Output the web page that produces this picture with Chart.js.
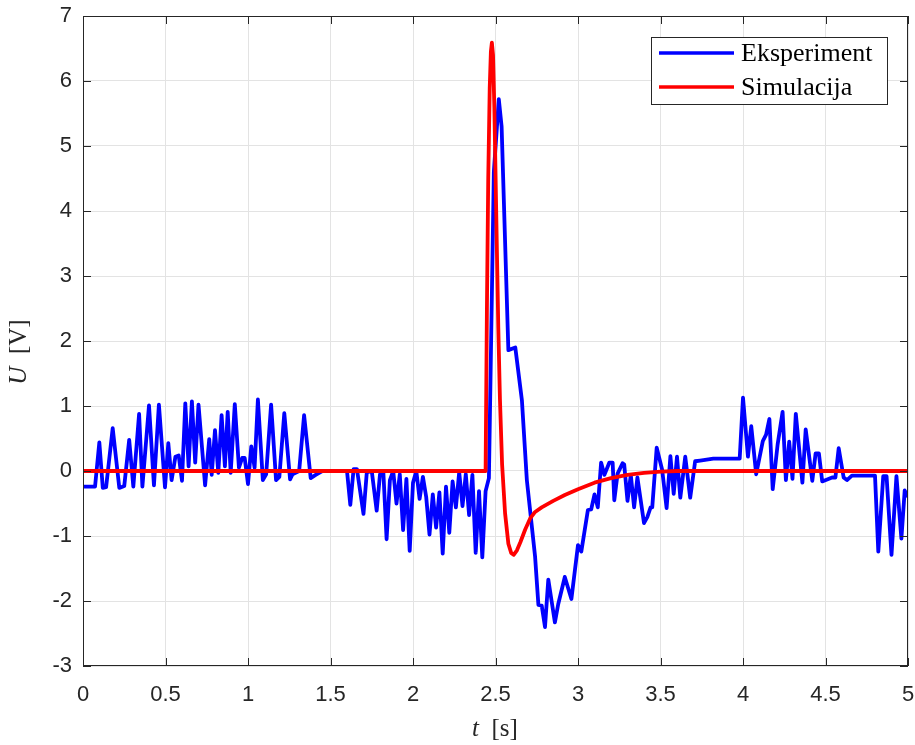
<!DOCTYPE html>
<html lang="hr">
<head>
<meta charset="UTF-8" />
<title>Eksperiment vs Simulacija</title>
<style>
  body { margin: 0; background: #fff; }
  #wrap { width: 915px; height: 745px; }
</style>
<script src="https://cdn.jsdelivr.net/npm/chart.js"></script>
</head>
<body>
<div id="wrap"><canvas id="c" width="915" height="745"></canvas></div>
<script>
// measured signal (blue)
const expT = [0, 0.073, 0.099, 0.12, 0.14, 0.18, 0.22, 0.25, 0.28, 0.305, 0.34, 0.36, 0.40, 0.43, 0.46, 0.497, 0.517, 0.537, 0.56, 0.58,
  0.60, 0.62, 0.64, 0.66, 0.68, 0.70, 0.74, 0.765, 0.78, 0.80, 0.82, 0.84, 0.86, 0.877, 0.895, 0.92, 0.945, 0.965, 0.98, 1.0,
  1.02, 1.04, 1.06, 1.09, 1.11, 1.14, 1.17, 1.19, 1.22, 1.255, 1.27, 1.31, 1.34, 1.38, 1.41, 1.45, 1.6,
  1.62, 1.64, 1.66, 1.70, 1.72, 1.75, 1.78, 1.80, 1.82, 1.84, 1.86, 1.88, 1.90, 1.92, 1.94, 1.96, 1.98, 2.00, 2.02, 2.04,
  2.06, 2.08, 2.10, 2.12, 2.14, 2.16, 2.18, 2.20, 2.22, 2.24, 2.26, 2.28, 2.30, 2.32, 2.34, 2.36, 2.38, 2.40, 2.42, 2.44,
  2.46, 2.49, 2.52, 2.537, 2.578, 2.62, 2.66, 2.69, 2.74, 2.76, 2.78, 2.80, 2.82, 2.86, 2.88, 2.92, 2.96, 3.00, 3.02, 3.06,
  3.08, 3.10, 3.12, 3.14, 3.16, 3.19, 3.21, 3.22, 3.24, 3.27, 3.28, 3.30, 3.32, 3.34, 3.36, 3.40, 3.42, 3.44, 3.45, 3.477,
  3.51, 3.537, 3.56, 3.58, 3.60, 3.62, 3.65, 3.68, 3.71, 3.74, 3.82, 3.98, 4.0, 4.03, 4.05, 4.08, 4.12, 4.14, 4.16, 4.18,
  4.21, 4.24, 4.26, 4.28, 4.30, 4.32, 4.36, 4.38, 4.42, 4.44, 4.46, 4.48, 4.54, 4.56, 4.58, 4.61, 4.63, 4.66, 4.80, 4.82,
  4.85, 4.87, 4.90, 4.93, 4.96, 4.98, 5.0];
const expU = [-0.24, -0.24, 0.44, -0.26, -0.25, 0.66, -0.26, -0.23, 0.48, -0.24, 0.88, -0.24, 1.01, -0.22, 1.02, -0.25, 0.43, -0.14, 0.22, 0.24,
  -0.15, 1.04, 0.07, 1.07, 0.13, 1.02, -0.22, 0.49, -0.06, 0.63, -0.03, 0.86, 0.07, 0.91, -0.03, 1.03, 0.05, 0.2, 0.2, -0.2,
  0.38, 0.05, 1.10, -0.14, -0.05, 1.02, -0.14, -0.09, 0.89, -0.13, -0.05, 0, 0.86, -0.11, -0.06, 0, 0,
  -0.52, 0.03, 0.03, -0.66, -0.02, 0, -0.61, -0.05, 0, -1.05, -0.14, 0, -0.5, -0.05, -0.91, -0.12, -1.23, -0.18, 0, -0.43,
  -0.09, -0.4, -0.98, -0.36, -0.87, -0.33, -1.27, -0.24, -0.95, -0.16, -0.56, -0.02, -0.54, -0.05, -0.68, -0.06, -1.26, -0.31, -1.33, -0.31,
  -0.11, 4.6, 5.72, 5.3, 1.86, 1.9, 1.09, -0.14, -1.32, -2.06, -2.07, -2.40, -1.67, -2.33, -2.05, -1.63, -1.97, -1.14, -1.24, -0.60,
  -0.59, -0.36, -0.56, 0.13, -0.06, 0.13, 0.13, -0.45, -0.04, 0.12, 0.1, -0.46, -0.06, -0.56, -0.1, -0.80, -0.71, -0.56, -0.56, 0.36,
  0.02, -0.57, 0.23, -0.35, 0.22, -0.41, 0.22, -0.41, 0.15, 0.16, 0.19, 0.19, 1.13, 0.22, 0.69, -0.05, 0.46, 0.56, 0.80, -0.28,
  0.41, 0.91, -0.14, 0.45, -0.12, 0.88, -0.18, 0.64, -0.15, 0.27, 0.27, -0.16, -0.10, -0.10, 0.35, -0.10, -0.14, -0.07, -0.07, -1.24,
  -0.08, -0.08, -1.29, -0.08, -1.04, -0.3, -0.4];

// simulated response (red)
const simT = [0, 2.44, 2.448, 2.456, 2.465, 2.472, 2.478, 2.485, 2.493, 2.5, 2.507, 2.517, 2.527, 2.54, 2.558, 2.578, 2.595, 2.61, 2.63, 2.65,
  2.68, 2.71, 2.74, 2.78, 2.85, 2.92, 3.0, 3.1, 3.2, 3.3, 3.4, 3.5, 3.6, 5.0];
const simU = [0, 0, 2.5, 4.5, 5.9, 6.45, 6.59, 6.4, 5.6, 4.6, 3.6, 2.2, 1.1, 0.1, -0.65, -1.12, -1.26, -1.29, -1.22, -1.1,
  -0.9, -0.73, -0.63, -0.56, -0.46, -0.37, -0.28, -0.18, -0.11, -0.06, -0.03, -0.01, 0, 0];

const xTicks = [0, 0.5, 1, 1.5, 2, 2.5, 3, 3.5, 4, 4.5, 5];
const yTicks = [-3, -2, -1, 0, 1, 2, 3, 4, 5, 6, 7];
const seriesNames = ["Eksperiment", "Simulacija"];

const toPts = (xs, ys) => xs.map((x, i) => ({ x: x, y: ys[i] }));

const boxPlugin = {
  id: "box",
  afterDraw(chart) {
    const ctx = chart.ctx;
    const a = chart.chartArea;
    const xs = chart.scales.x, ys = chart.scales.y;
    ctx.save();
    ctx.strokeStyle = "#262626";
    ctx.lineWidth = 1;
    ctx.strokeRect(a.left + 0.5, a.top + 0.5, a.right - a.left - 1, a.bottom - a.top - 1);
    ctx.beginPath();
    xTicks.forEach(v => {
      const p = Math.round(xs.getPixelForValue(v)) + 0.5;
      ctx.moveTo(p, a.bottom); ctx.lineTo(p, a.bottom - 8);
      ctx.moveTo(p, a.top); ctx.lineTo(p, a.top + 8);
    });
    yTicks.forEach(v => {
      const p = Math.round(ys.getPixelForValue(v)) + 0.5;
      ctx.moveTo(a.left, p); ctx.lineTo(a.left + 8, p);
      ctx.moveTo(a.right, p); ctx.lineTo(a.right - 8, p);
    });
    ctx.stroke();

    // axis titles, italic variable + upright unit
    const drawTitle = (cx, cy, rot, v, unit) => {
      ctx.save();
      ctx.translate(cx, cy);
      ctx.rotate(rot);
      ctx.fillStyle = "#262626";
      ctx.textBaseline = "middle";
      const fi = "italic 25px 'Liberation Serif'";
      const fn = "25px 'Liberation Serif'";
      ctx.font = fi; const w1 = ctx.measureText(v).width;
      ctx.font = fn; const w2 = ctx.measureText(unit).width;
      let x0 = -(w1 + w2) / 2;
      ctx.font = fi; ctx.textAlign = "left"; ctx.fillText(v, x0, 0);
      ctx.font = fn; ctx.fillText(unit, x0 + w1, 0);
      ctx.restore();
    };
    drawTitle(495, 729, 0, "t", "  [s]");
    drawTitle(19, 352, -Math.PI / 2, "U", "  [V]");

    // legend box
    const lx = 651, ly = 37, lw = 236, lh = 67;
    ctx.fillStyle = "#fff";
    ctx.fillRect(lx, ly, lw, lh);
    ctx.strokeStyle = "#262626";
    ctx.strokeRect(lx + 0.5, ly + 0.5, lw, lh);
    chart.data.datasets.forEach((ds, i) => {
      const yy = ly + 16 + i * 34;
      ctx.strokeStyle = ds.borderColor;
      ctx.lineWidth = 3.5;
      ctx.beginPath(); ctx.moveTo(659, yy); ctx.lineTo(734, yy); ctx.stroke();
      ctx.fillStyle = "#000";
      ctx.font = "26px 'Liberation Serif'";
      ctx.textAlign = "left";
      ctx.textBaseline = "middle";
      ctx.fillText(ds.label, 741, yy + 1);
    });
    ctx.restore();
  }
};

const fitX = s => { s.height = 79; s.paddingLeft = 0; s.paddingRight = 0; };
const fitY = s => { s.width = 83; s.paddingTop = 0; s.paddingBottom = 0; };

new Chart(document.getElementById("c"), {
  type: "line",
  data: {
    datasets: [
      { label: seriesNames[0], data: toPts(expT, expU), borderColor: "#0000ff", borderWidth: 3.8, borderJoinStyle: "round", pointRadius: 0, tension: 0, order: 2 },
      { label: seriesNames[1], data: toPts(simT, simU), borderColor: "#ff0000", borderWidth: 3.8, borderJoinStyle: "round", pointRadius: 0, tension: 0, order: 1 }
    ]
  },
  options: {
    responsive: false,
    animation: false,
    layout: { padding: { top: 16, right: 7, left: 0, bottom: 0 } },
    plugins: { legend: { display: false }, tooltip: { enabled: false } },
    scales: {
      x: {
        type: "linear", min: 0, max: 5,
        afterBuildTicks: s => { s.ticks = xTicks.map(v => ({ value: v })); },
        afterFit: fitX,
        grid: { color: "#e3e3e3", drawTicks: false, lineWidth: 1 },
        border: { display: false },
        ticks: { color: "#262626", padding: 16, font: { family: "'Liberation Sans'", size: 22 }, callback: v => String(v), maxRotation: 0 }
      },
      y: {
        type: "linear", min: -3, max: 7,
        afterBuildTicks: s => { s.ticks = yTicks.map(v => ({ value: v })); },
        afterFit: fitY,
        grid: { color: "#e3e3e3", drawTicks: false, lineWidth: 1 },
        border: { display: false },
        ticks: { color: "#262626", padding: 11, font: { family: "'Liberation Sans'", size: 22 }, callback: v => String(v) }
      }
    }
  },
  plugins: [boxPlugin]
});
</script>
</body>
</html>
